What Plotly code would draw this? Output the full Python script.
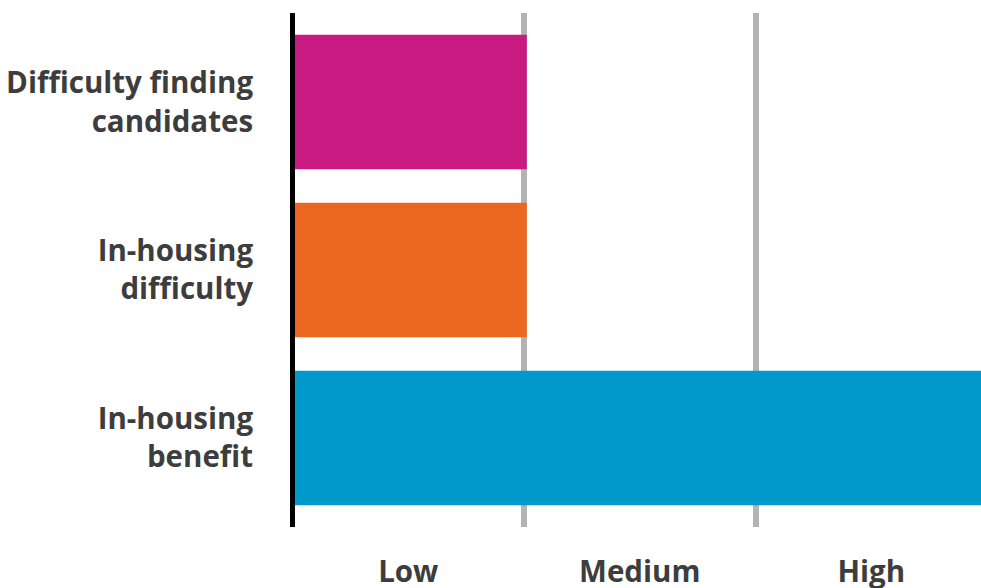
import plotly.graph_objects as go

# Factors rated on a Low / Medium / High scale (1 = Low, 2 = Medium, 3 = High)
factors = ["Difficulty finding<br>candidates", "In-housing<br>difficulty", "In-housing<br>benefit"]
scores = [1.012, 1.012, 3.0]
bar_colors = ["#C91A82", "#EC6820", "#0099CC"]

level_labels = ["Low", "Medium", "High"]
level_label_pos = [0.5, 1.5, 2.5]
level_bounds = [1, 2]

text_color = "#3d3d3d"
label_font = dict(family="'Open Sans', sans-serif", size=29.5, color=text_color, weight=700)

fig = go.Figure(
    go.Bar(
        x=scores,
        y=list(range(len(factors))),
        orientation="h",
        width=0.8,
        marker=dict(color=bar_colors, line=dict(width=0)),
        hoverinfo="skip",
    )
)

fig.update_layout(
    width=981,
    height=588,
    margin=dict(l=290, r=0, t=13, b=61),
    paper_bgcolor="white",
    plot_bgcolor="white",
    showlegend=False,
    font=label_font,
    xaxis=dict(
        range=[-0.0108, 2.974],
        tickvals=level_label_pos,
        ticktext=level_labels,
        tickfont=label_font,
        showgrid=False,
        zeroline=False,
        showline=False,
        ticks="outside",
        ticklen=19,
        tickcolor="rgba(0,0,0,0)",
        automargin=False,
        minor=dict(
            tickvals=level_bounds,
            showgrid=True,
            gridcolor="#b3b3b3",
            gridwidth=5.5,
            ticks="",
        ),
        fixedrange=True,
    ),
    yaxis=dict(
        range=[2.53, -0.53],
        tickvals=list(range(len(factors))),
        ticktext=factors,
        tickfont=label_font,
        showgrid=False,
        zeroline=False,
        showline=False,
        ticks="outside",
        ticklen=30,
        tickcolor="rgba(0,0,0,0)",
        automargin=False,
        fixedrange=True,
    ),
    shapes=[
        dict(
            type="line",
            xref="x",
            yref="paper",
            x0=0,
            x1=0,
            y0=0,
            y1=1,
            line=dict(color="black", width=5),
            layer="above",
        )
    ],
)

fig.write_html("out.html")
